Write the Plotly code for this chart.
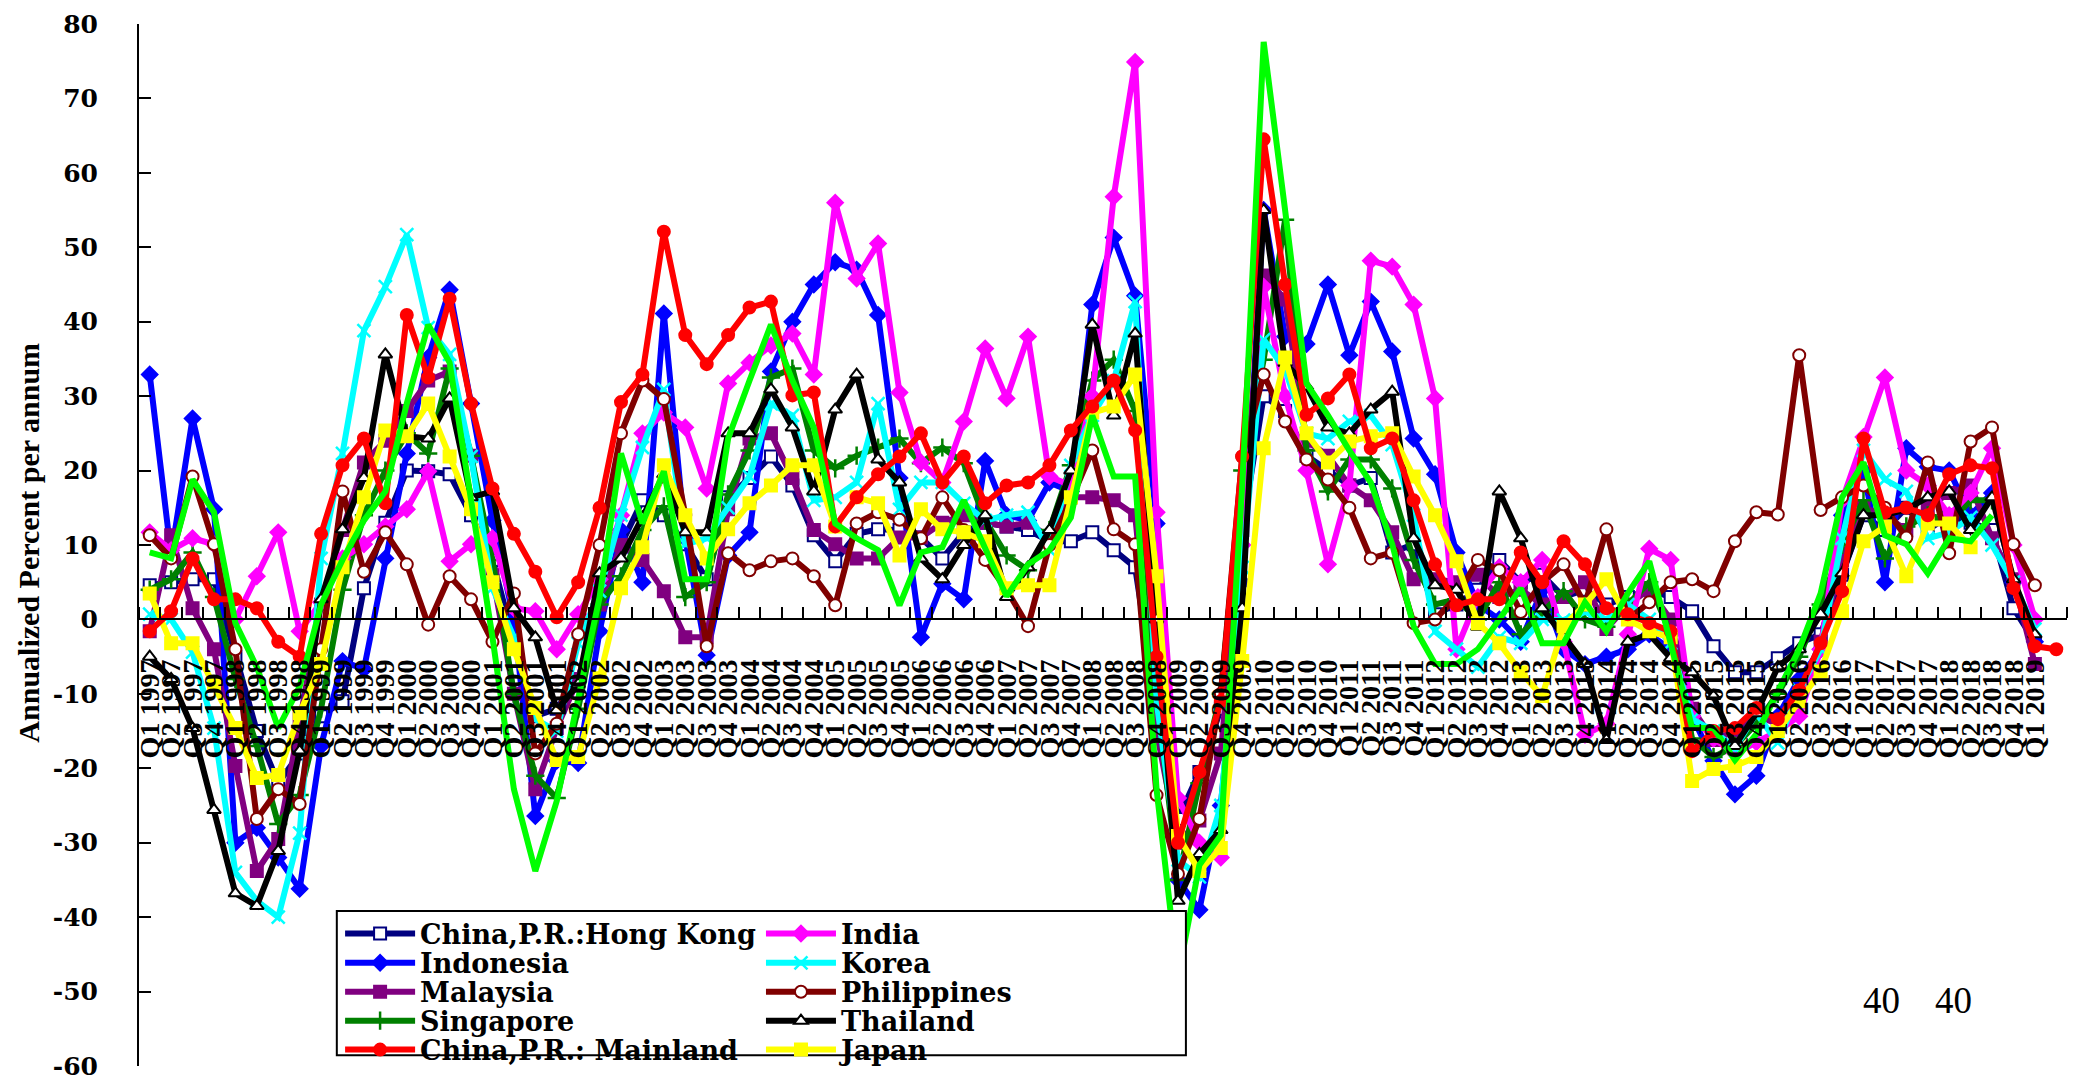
import plotly.graph_objects as go

# Quarterly labels, Q1 1997 .. Q2 2019 (the last quarter carries no label)
quarters = [f"Q{q} {y}" for y in range(1997, 2020) for q in range(1, 5)][:90]

hong_kong = [4.6, 5.0, 5.4, 5.4, -5.0, -15.0, -22.0, -18.0, -13.0, -11.0,
             4.2, 13.0, 20.0, 19.9, 19.5, 14.0, 8.0, -3.0, -13.0, -12.0,
             -8.0, 2.0, 10.0, 16.0, 14.0, 10.1, 5.4, 16.4, 19.0, 21.9,
             18.0, 11.3, 7.8, 11.5, 12.1, 12.0, 11.0, 8.2, 11.7, 13.0,
             12.5, 12.0, 10.5, 10.5, 11.7, 9.3, 7.0, -11.9, -26.8, -20.5,
             -12.0, 12.0, 30.0, 28.0, 22.0, 20.0, 18.0, 19.0, 9.0, 10.1,
             0.7, 2.0, 4.0, 8.0, 5.0, 6.0, 3.0, 4.0, 2.0, 3.0,
             4.0, 3.0, 1.1, -3.6, -7.1, -7.1, -5.2, -3.2, -2.0, 6.0,
             14.0, 12.0, 15.0, 12.0, 14.0, 13.0, 12.0, 1.5, -3.0, None]

indonesia = [32.9, 8.6, 27.0, 14.8, -30.0, -28.0, -32.0, -36.2, -17.0, -5.6,
             -6.7, 8.2, 22.3, 35.2, 44.3, 29.0, 13.3, 0.0, -26.4, -19.0,
             -19.3, -1.6, 12.0, 5.0, 41.1, 10.9, -4.8, 8.6, 11.7, 33.3,
             40.0, 45.0, 48.0, 47.0, 40.9, 19.0, -2.4, 4.8, 2.7, 21.3,
             14.0, 13.3, 18.4, 17.2, 42.3, 51.3, 43.5, 12.9, -35.0, -39.0,
             -25.0, 5.0, 55.0, 38.0, 37.0, 45.0, 35.5, 42.7, 36.0, 24.3,
             19.5, 9.0, 2.0, 0.0, -3.0, 4.0, -4.0, -6.0, -5.0, -4.0,
             -2.0, -4.0, -13.0, -19.0, -23.5, -21.0, -13.0, -8.0, -4.0, 14.0,
             20.0, 5.0, 23.0, 20.5, 20.0, 14.0, 17.0, 5.0, -3.0, None]

malaysia = [-1.6, 11.3, 1.5, -4.0, -19.7, -33.8, -29.5, -13.4, 2.0, 12.0,
            21.1, 24.0, 28.0, 32.1, 33.3, 22.0, 6.0, -10.0, -22.8, -14.6,
            -8.0, 2.0, 10.0, 8.0, 3.8, -2.4, -2.4, 14.8, 24.3, 25.0,
            19.0, 12.0, 10.1, 8.2, 8.2, 11.0, 11.0, 13.0, 14.0, 13.0,
            12.5, 13.0, 11.0, 16.4, 16.4, 16.0, 14.0, -15.0, -30.0, -27.0,
            -18.0, 15.0, 46.2, 43.0, 24.0, 22.0, 18.0, 16.0, 11.7, 5.4,
            5.4, 5.0, 6.0, 3.0, 4.0, 2.0, 3.0, 5.0, -1.3, 2.0,
            4.0, 0.0, -12.0, -16.2, -15.0, -13.0, -14.0, -10.0, -3.0, 8.0,
            15.0, 14.0, 12.0, 15.0, 17.0, 18.0, 10.9, 5.4, -6.0, None]

singapore = [4.0, 5.4, 9.0, 3.0, -8.0, -17.0, -27.5, -23.6, -12.0, 4.0,
             14.0, 20.0, 25.0, 22.3, 33.7, 22.0, 8.0, -10.0, -21.0, -24.0,
             -12.0, 2.0, 5.8, 12.0, 15.2, 3.0, 5.0, 16.8, 22.7, 32.5,
             33.7, 22.7, 20.3, 22.0, 23.1, 24.3, 21.0, 23.1, 21.0, 13.3,
             8.6, 6.6, 12.0, 20.7, 32.1, 34.9, 28.0, -10.0, -35.0, -22.0,
             -10.0, 20.0, 34.9, 53.7, 22.7, 17.2, 21.5, 21.5, 17.6, 8.0,
             2.0, 2.7, 0.0, 5.0, -2.0, 1.0, 3.8, 0.0, -1.0, 2.0,
             5.0, -2.0, -16.0, -18.5, -17.0, -14.0, -10.0, -5.0, 2.0, 10.0,
             16.0, 8.2, 12.5, 14.0, 13.0, 16.0, 16.0, None, None, None]

mainland = [-1.6, 1.1, 8.2, 2.7, 2.7, 1.5, -3.0, -5.0, 11.5, 20.7,
            24.3, 15.6, 40.9, 32.5, 43.1, 29.0, 17.6, 11.5, 6.4, 0.3,
            5.0, 15.0, 29.2, 32.9, 52.1, 38.2, 34.3, 38.2, 41.9, 42.7,
            30.1, 30.5, 12.5, 16.4, 19.5, 21.9, 25.0, 18.4, 21.9, 15.6,
            18.0, 18.4, 20.7, 25.4, 28.6, 32.1, 25.4, -5.0, -30.0, -20.5,
            -11.0, 21.9, 64.5, 45.0, 27.5, 29.7, 32.9, 23.0, 24.3, 16.0,
            7.4, 1.9, 2.7, 2.7, 9.0, 5.0, 10.5, 7.4, 1.5, 0.7,
            -0.5, -1.6, -17.7, -15.0, -14.6, -11.9, -13.4, -9.5, -3.2, 3.8,
            24.3, 14.4, 15.0, 14.0, 19.5, 20.7, 20.3, 4.2, -3.6, -4.0]

india = [11.7, 9.3, 10.9, 10.1, 0.0, 5.8, 11.7, -1.6, 2.3, 8.2,
         10.1, 12.5, 14.8, 19.9, 7.8, 10.1, 10.9, 1.5, 1.1, -4.0,
         0.7, 5.4, 14.0, 25.0, 27.8, 25.8, 17.6, 31.7, 34.5, 36.8,
         38.4, 32.9, 56.0, 45.8, 50.5, 30.5, 21.1, 18.4, 26.6, 36.4,
         29.7, 38.0, 19.2, 18.0, 30.0, 56.8, 74.9, 14.4, -24.0, -30.0,
         -32.0, 10.0, 44.7, 30.0, 20.0, 7.4, 18.0, 48.2, 47.4, 42.3,
         29.7, -4.0, 3.0, 7.0, 5.0, 8.0, -3.0, -15.5, -14.0, -2.0,
         9.5, 8.0, -13.0, -16.0, -18.0, -16.5, -15.0, -13.0, -4.0, 16.0,
         24.5, 32.5, 20.0, 18.0, 14.0, 17.0, 23.0, 10.0, 0.0, None]

korea = [0.7, 0.0, -4.4, -14.6, -34.0, -37.8, -40.0, -28.7, 8.2, 22.3,
         38.8, 44.7, 51.7, 39.2, 35.6, 21.9, 4.2, -2.4, -13.4, -15.0,
         -3.2, 3.8, 14.0, 23.1, 30.9, 10.1, 10.9, 15.0, 19.2, 29.0,
         27.4, 16.0, 16.4, 18.4, 29.0, 14.8, 18.4, 18.4, 15.6, 13.3,
         14.0, 14.4, 9.3, 20.7, 27.4, 32.1, 42.7, -11.0, -32.3, -34.6,
         -25.0, 7.0, 37.6, 33.6, 25.0, 24.3, 26.6, 27.4, 23.5, 14.0,
         -1.6, -4.0, -6.4, -2.4, -3.2, 0.0, -0.1, 1.0, 0.0, 2.0,
         0.0, -3.2, -13.4, -15.0, -17.3, -12.6, -16.6, -9.5, -4.0, 10.9,
         22.7, 18.8, 17.2, 10.9, 11.7, 13.7, 10.0, 5.0, -1.3, None]

philippines = [11.3, 8.2, 19.2, 10.1, -4.0, -26.8, -22.8, -24.8, -4.0, 17.2,
               6.4, 11.7, 7.4, -0.7, 5.8, 2.7, -3.0, 3.5, -18.0, -14.0,
               -2.0, 10.0, 25.0, 32.1, 29.6, 14.0, -3.6, 8.9, 6.6, 7.8,
               8.2, 5.8, 1.9, 12.9, 14.4, 13.4, 10.9, 16.4, 12.0, 8.0,
               4.0, -0.9, 10.0, 16.0, 22.7, 12.1, 10.1, -23.6, -34.2, -26.8,
               -10.0, 21.9, 32.9, 26.6, 21.5, 18.8, 15.0, 8.2, 9.0, -0.5,
               0.0, 3.0, 8.0, 6.6, 1.0, 5.0, 7.4, 2.0, 12.1, 0.0,
               2.3, 5.0, 5.4, 3.8, 10.5, 14.4, 14.1, 35.5, 14.7, 16.4,
               18.0, 15.0, 11.0, 21.1, 8.9, 23.9, 25.8, 10.1, 4.6, None]

thailand = [-5.0, -8.0, -14.6, -25.6, -36.8, -38.5, -31.1, -17.7, 2.7, 12.1,
            19.0, 35.6, 24.6, 24.3, 29.7, 16.4, 17.2, 1.5, -2.4, -12.2,
            -8.7, 6.2, 8.2, 13.7, 19.5, 11.7, 11.7, 25.0, 25.0, 30.9,
            25.8, 17.2, 28.2, 32.9, 21.5, 18.4, 8.2, 5.4, 10.0, 14.0,
            3.0, 7.0, 12.0, 20.0, 39.6, 27.4, 38.4, 0.0, -37.8, -31.5,
            -28.3, 1.5, 55.0, 34.5, 31.3, 25.8, 25.0, 28.2, 30.6, 10.9,
            4.6, 4.0, -1.0, 17.2, 10.9, 1.5, -2.4, -6.0, -16.2, -3.0,
            -2.0, -5.2, -7.1, -10.3, -17.0, -12.6, -6.4, -4.0, 0.7, 6.2,
            14.0, 14.0, 14.8, 16.4, 17.2, 12.0, 16.4, 5.4, -2.0, None]

japan = [3.5, -3.2, -3.2, -8.7, -14.6, -21.3, -20.9, -12.6, -6.0, 7.0,
         16.4, 25.4, 24.6, 29.0, 21.9, 14.8, 5.0, -4.0, -11.9, -18.9,
         -18.5, -7.9, 4.2, 9.7, 20.7, 14.0, 8.2, 12.1, 15.6, 18.0,
         20.7, 20.7, 12.5, 16.4, 15.6, 8.6, 14.8, 12.1, 11.7, 10.5,
         4.2, 4.6, 4.6, 16.4, 27.8, 28.6, 32.9, 5.8, -29.1, -33.8,
         -30.7, -5.6, 23.0, 35.2, 25.0, 21.1, 23.9, 24.6, 25.0, 19.2,
         14.0, 7.8, -0.5, -3.2, -7.1, -10.3, -0.9, 2.0, 5.4, 0.0,
         -1.6, -2.4, -21.7, -20.1, -19.7, -18.5, -15.0, -11.0, -7.0, 1.1,
         10.5, 12.5, 5.8, 12.9, 12.9, 9.7, None, None, None, None]

# Regional composite line (plotted without a legend entry)
region_total = [9.0, 8.2, 18.8, 14.4, -0.5, -6.4, -14.6, -9.0, 2.0, 8.0,
                13.3, 17.2, 29.0, 39.6, 34.5, 16.4, -2.4, -22.8, -33.8, -24.4,
                -11.0, 3.0, 22.3, 12.9, 19.9, 5.4, 5.4, 24.3, 32.1, 39.6,
                32.1, 25.8, 12.9, 10.9, 9.3, 1.9, 9.0, 9.7, 16.0, 9.3,
                3.1, 7.4, 9.3, 13.7, 27.4, 19.2, 19.2, -22.8, -48.0, -33.0,
                -29.0, 18.0, 77.6, 55.0, 31.7, 27.4, 22.7, 18.4, 10.1, -0.9,
                -6.0, -6.0, -4.0, 0.0, 4.2, -3.2, -3.2, 2.3, -1.6, 3.5,
                7.8, -3.2, -14.6, -14.6, -18.9, -15.4, -9.5, -4.0, 3.5, 16.4,
                21.1, 11.3, 10.1, 6.2, 10.9, 10.5, 14.0, None, None, None]

y_ticks = list(range(-60, 81, 10))
y_ticktext = [str(v) for v in y_ticks]

x_idx = list(range(len(quarters)))
labelled = x_idx[:-1]

# name, values, line colour, marker symbol, marker fill, marker edge, legend column, legend row
series = [
    ("China,P.R.:Hong Kong", hong_kong, "#000080", "square", "white", "#000080", 0, 0),
    ("Indonesia", indonesia, "#0000FF", "diamond", "#0000FF", "#0000FF", 0, 1),
    ("Malaysia", malaysia, "#800080", "square", "#800080", "#800080", 0, 2),
    ("Singapore", singapore, "#008000", "cross-thin", "#008000", "#008000", 0, 3),
    ("India", india, "#FF00FF", "diamond", "#FF00FF", "#FF00FF", 1, 0),
    ("Korea", korea, "#00FFFF", "x-thin", "#00FFFF", "#00FFFF", 1, 1),
    ("Philippines", philippines, "#800000", "circle", "white", "#800000", 1, 2),
    ("Thailand", thailand, "#000000", "triangle-up", "white", "#000000", 1, 3),
    ("Japan", japan, "#FFFF00", "square", "#FFFF00", "#FFFF00", 1, 4),
    ("China,P.R.: Mainland", mainland, "#FF0000", "circle", "#FF0000", "#FF0000", 0, 4),
]

# Legend grid: two columns of five rows inside one framed box
legend_cols = [0.1043, 0.3226]
legend_rows = [0.1268, 0.0986, 0.0708, 0.0431, 0.0153]
legend_font = dict(family="DejaVu Serif", size=27, color="black", weight="bold")

fig = go.Figure()
legend_layout = {}
for k, (name, vals, col, sym, fill, edge, lc, lr) in enumerate(series):
    thin = sym in ("cross-thin", "x-thin")
    key = "legend" if k == 0 else f"legend{k + 1}"
    fig.add_trace(go.Scatter(
        x=x_idx, y=vals, name=name, mode="lines+markers",
        line=dict(color=col, width=6),
        marker=dict(symbol=sym, size=12 if not thin else 13, color=fill,
                    line=dict(color=edge, width=2.5 if thin else 2)),
        legend=key,
    ))
    legend_layout[key] = dict(
        x=legend_cols[lc], y=legend_rows[lr], xanchor="left", yanchor="middle",
        bgcolor="rgba(0,0,0,0)", borderwidth=0, font=legend_font, itemwidth=70,
    )

fig.add_trace(go.Scatter(
    x=x_idx, y=region_total, name="Regional total", mode="lines",
    line=dict(color="#00FF00", width=6), showlegend=False,
))

fig.update_layout(
    width=2073, height=1087,
    margin=dict(l=139, r=6, t=24, b=16),
    paper_bgcolor="white", plot_bgcolor="white",
    font=dict(family="Liberation Serif", color="black"),
    showlegend=True,
    **legend_layout,
    xaxis=dict(
        type="linear", range=[-0.5, len(quarters) - 0.5],
        anchor="free", position=60 / 140,
        showline=True, linecolor="black", linewidth=2,
        showgrid=False, zeroline=False,
        tickmode="array", tickvals=labelled, ticktext=quarters[:-1],
        ticks="", tickangle=-90, ticklabelstandoff=28,
        tickfont=dict(family="Liberation Serif", size=28, weight="bold", color="black"),
        minor=dict(tickmode="array",
                   tickvals=[k - 0.5 for k in range(len(quarters) + 1)],
                   ticks="inside", ticklen=11, tickwidth=2, tickcolor="black"),
    ),
    yaxis=dict(
        range=[-60, 80], showline=True, linecolor="black", linewidth=2,
        showgrid=False, zeroline=False,
        tickmode="array", tickvals=y_ticks, ticktext=y_ticktext,
        ticks="inside", ticklen=12, tickwidth=2, tickcolor="black",
        ticklabelstandoff=34,
        tickfont=dict(family="DejaVu Serif", size=25, weight="bold", color="black"),
    ),
    shapes=[dict(type="rect", xref="paper", yref="paper",
                 x0=0.1026, x1=0.543, y0=0.0103, y1=0.1488,
                 line=dict(color="black", width=2), fillcolor="white", layer="above")],
    annotations=[
        dict(text="Annualized Percent per annum", xref="paper", yref="paper",
             x=-0.0572, y=0.502, xanchor="center", yanchor="middle",
             textangle=-90, showarrow=False,
             font=dict(family="Liberation Serif", size=30, weight="bold", color="black")),
        dict(text="40", xref="paper", yref="paper", x=0.904, y=0.0628,
             xanchor="center", yanchor="middle", showarrow=False,
             font=dict(family="Liberation Serif", size=37, color="black")),
        dict(text="40", xref="paper", yref="paper", x=0.941, y=0.0628,
             xanchor="center", yanchor="middle", showarrow=False,
             font=dict(family="Liberation Serif", size=37, color="black")),
    ],
)

fig.write_html("out.html")
